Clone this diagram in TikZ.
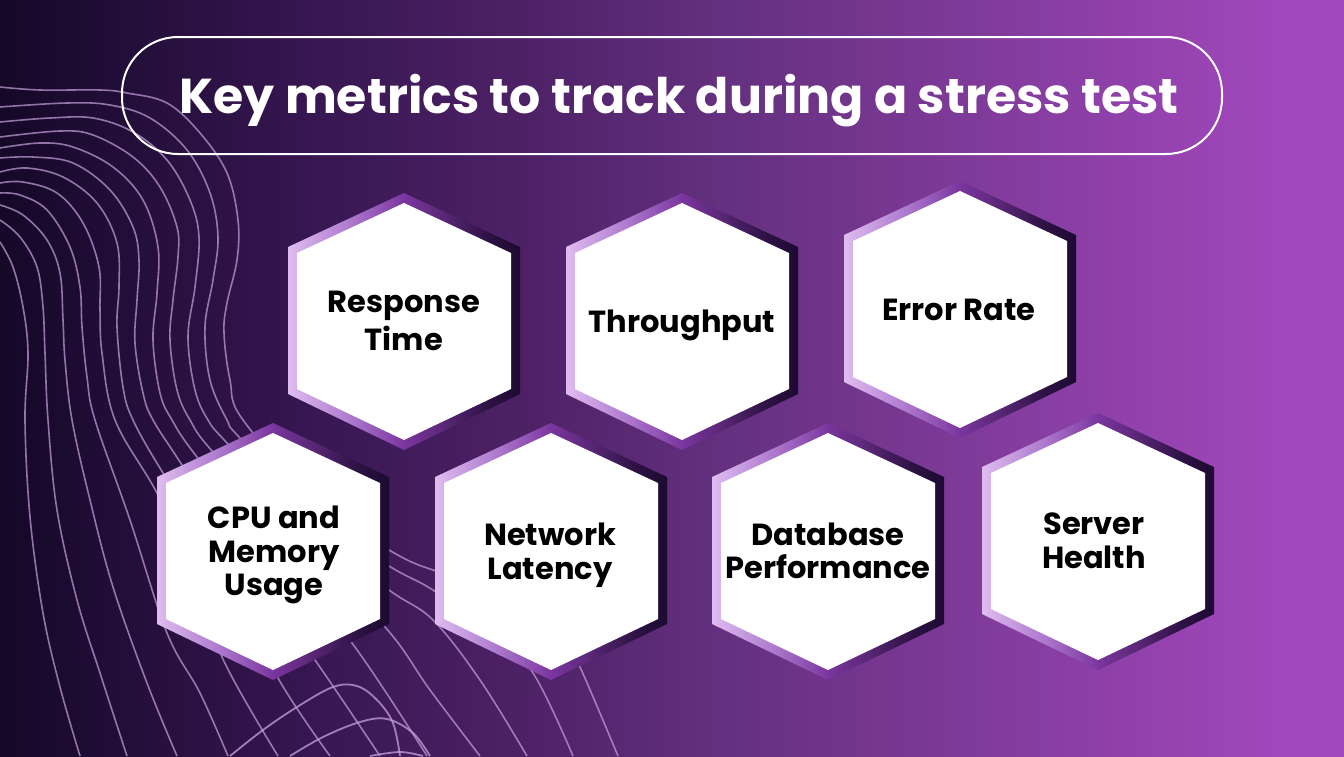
\documentclass[tikz,border=0pt]{standalone}
\usepackage{fontspec}
\setmainfont{Poppins}
\usetikzlibrary{calc}
\definecolor{bgA}{HTML}{150828}
\definecolor{bgB}{HTML}{361650}
\definecolor{bgC}{HTML}{4F2268}
\definecolor{bgCC}{HTML}{64307F}
\definecolor{bgD}{HTML}{7E3A98}
\definecolor{bgE}{HTML}{A248BD}
\definecolor{ringA}{HTML}{DFBCF0}
\definecolor{ringB}{HTML}{AE7BCE}
\definecolor{ringC}{HTML}{7A359F}
\definecolor{ringD}{HTML}{5C2878}
\definecolor{ringE}{HTML}{2E1245}
\definecolor{ringF}{HTML}{1C0A30}
\definecolor{wave}{HTML}{C6A2DC}
\pgfdeclarehorizontalshading{bgshade}{100bp}{
  color(0bp)=(bgA); color(25bp)=(bgA); color(36.2bp)=(bgB); color(45bp)=(bgC); color(51.8bp)=(bgCC);
  color(60.7bp)=(bgD); color(73bp)=(bgE); color(100bp)=(bgE)}
\pgfdeclarehorizontalshading{ringshade}{100bp}{
  color(0bp)=(ringA); color(25bp)=(ringA); color(38bp)=(ringB); color(50bp)=(ringC);
  color(58bp)=(ringD); color(68bp)=(ringE); color(75bp)=(ringF); color(100bp)=(ringF)}
\tikzset{
  wavy/.style={draw=wave,draw opacity=.7,line width=1.6pt,smooth,tension=.6},
  arcline/.style={draw=wave,draw opacity=.75,line width=1.8pt,smooth,tension=.6},
  pill/.style={draw=white,line width=2pt,rounded corners=56pt,minimum width=1100pt,minimum height=117pt,inner sep=0pt},
  titletext/.style={text=white,font=\fontsize{49}{55}\selectfont\bfseries,inner sep=0pt},
  hexlabel/.style={text=black,align=center,inner sep=0pt,font=\fontsize{30.5}{33.5}\selectfont\bfseries}
}
\newcommand{\hexa}[6]{%
  \shade[shading=ringshade] ({#2},{#3-10}) -- ({#2+116},{#3+44}) -- ({#2+116},{#3+191}) -- ({#2},{#3+247}) -- ({#2-116},{#3+191}) -- ({#2-116},{#3+44}) -- cycle;
  \fill[white] ({#2},{#3}) -- ({#2+107},{#3+50}) -- ({#2+107},{#3+186}) -- ({#2},{#3+237}) -- ({#2-107},{#3+186}) -- ({#2-107},{#3+50}) -- cycle;
  \node[hexlabel] (#1) at (#5,#6) {#4};}
\begin{document}
\begin{tikzpicture}[x=1pt,y=-1pt]
\path[use as bounding box,shading=bgshade] (0,0) rectangle (1344,756);
\begin{scope}
\clip (0,0) rectangle (1344,756);
\draw[wavy] plot coordinates {(0,87)(40,90)(100,90)(127,93)(167,103)(200,133)(227,173)(238,220)(237,260)(227,303)(224,333)(230,380)(243,420)(320,505)(389,550)(433,570)(510,590)(560,630)(580,667)(618,756)};
\draw[wavy] plot coordinates {(0,107)(67,103)(110,105)(150,118)(187,150)(210,193)(218,237)(213,280)(205,327)(210,380)(227,420)(240,438)(320,520)(389,566)(433,590)(490,630)(533,673)(573,756)};
\draw[wavy] plot coordinates {(0,122)(50,118)(93,118)(133,132)(167,160)(190,200)(199,237)(195,287)(188,337)(195,390)(208,420)(227,443)(310,530)(389,590)(433,620)(480,680)(527,756)};
\draw[wavy] plot coordinates {(0,137)(60,131)(93,135)(133,157)(160,187)(177,227)(178,257)(173,300)(170,340)(177,390)(190,420)(213,452)(300,545)(385,627)(430,690)(480,756)};
\draw[wavy] plot coordinates {(0,148)(40,143)(73,147)(113,167)(143,200)(158,247)(157,293)(153,340)(160,393)(172,420)(197,457)(280,560)(352,643)(427,756)};
\draw[wavy] plot coordinates {(0,158)(33,157)(73,163)(110,190)(133,227)(139,260)(137,300)(135,343)(143,393)(153,420)(182,465)(250,570)(315,660)(380,756)};
\draw[wavy] plot coordinates {(0,172)(27,168)(63,177)(97,203)(117,243)(119,287)(117,327)(123,387)(133,420)(163,473)(225,570)(278,678)(330,756)};
\draw[wavy] plot coordinates {(0,183)(23,182)(57,193)(83,223)(99,267)(100,310)(102,353)(115,420)(157,493)(200,580)(222,657)(278,756)};
\draw[wavy] plot coordinates {(0,193)(20,195)(47,210)(70,247)(80,287)(82,327)(87,377)(95,420)(130,520)(167,633)(200,693)(228,756)};
\draw[wavy] plot coordinates {(0,205)(23,215)(47,240)(60,273)(63,320)(65,360)(72,420)(90,500)(113,587)(147,683)(177,756)};
\draw[wavy] plot coordinates {(0,220)(20,237)(37,267)(43,307)(45,353)(48,420)(57,510)(77,600)(100,673)(127,756)};
\draw[wavy] plot coordinates {(0,242)(13,267)(23,307)(28,353)(25,420)(30,517)(43,613)(60,687)(80,756)};
\draw[arcline] plot coordinates {(230,756)(263,730)(297,707)(333,687)(357,686)(377,700)(393,723)(400,756)};
\draw[arcline] plot coordinates {(290,756)(323,737)(360,722)(387,719)(413,733)(430,756)};
\draw[arcline] plot coordinates {(370,756)(400,752)(423,756)};
\end{scope}
\node[pill] (bar) at (672,95.5) {};
\node[titletext] (title) at (679,101) {Key metrics to track during a stress test};
\hexa{resp}{404}{203}{Response\\[4pt]Time}{404}{321}
\hexa{thru}{682}{203}{Throughput}{682}{325}
\hexa{err}{960}{191}{Error Rate}{959}{310}
\hexa{cpu}{273}{433}{CPU and\\Memory\\Usage}{274}{555}
\hexa{net}{551}{433}{Network\\Latency}{550}{555}
\hexa{db}{828}{433}{Database\\Performance}{828}{551}
\hexa{srv}{1098}{423}{Server\\Health}{1094}{541}
\end{tikzpicture}
\end{document}
